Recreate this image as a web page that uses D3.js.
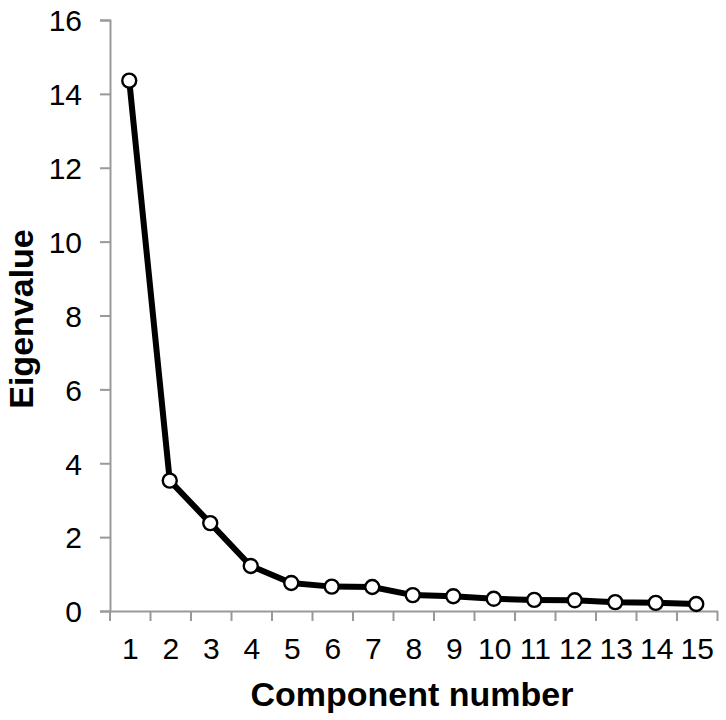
<!DOCTYPE html>
<html><head><meta charset="utf-8">
<script src="https://cdn.jsdelivr.net/npm/d3@7"></script>
<style>body{margin:0;background:#fff}svg{display:block}</style>
</head><body>
<script>
const components = [1,2,3,4,5,6,7,8,9,10,11,12,13,14,15];
const eigenvalues = [14.36,3.53,2.38,1.22,0.76,0.66,0.65,0.43,0.40,0.33,0.30,0.29,0.24,0.22,0.19];
const yTicks = [0,2,4,6,8,10,12,14,16];
const xTitle = "Component number";
const yTitle = "Eigenvalue";

const W=726,H=720;
const svg=d3.select("body").append("svg").attr("width",W).attr("height",H);
const x=d3.scaleBand().domain(components).range([110,717.5]);
const y=d3.scaleLinear().domain([0,16]).range([611,20]);
const font="Liberation Sans, Arial, sans-serif";
const axisColor="#999";

// y axis
const ya=svg.append("g").attr("transform","translate(110,0)")
  .call(d3.axisLeft(y).tickValues(yTicks).tickSize(10).tickPadding(18).tickFormat(d3.format("d")));
ya.attr("font-size",null).attr("font-family",null);
ya.select(".domain").attr("stroke",axisColor).attr("stroke-width",2);
ya.selectAll(".tick line").attr("stroke",axisColor).attr("stroke-width",2);
ya.selectAll("text").attr("font-family",font).style("font-size","30px").attr("fill","#000").attr("dy","0.36em");

// x axis
const xa=svg.append("g").attr("transform","translate(0,611)")
  .call(d3.axisBottom(x).tickSize(0).tickPadding(26));
xa.attr("font-size",null).attr("font-family",null);
xa.select(".domain").attr("stroke",axisColor).attr("stroke-width",2);
xa.selectAll(".tick line").remove();
xa.selectAll("text").attr("font-family",font).style("font-size","30px").attr("fill","#000")
  .attr("y",48).attr("dy",0);
// boundary ticks
const bounds=components.map(c=>x(c)).concat([x(components[components.length-1])+x.bandwidth()]);
svg.append("g").selectAll("line").data(bounds).join("line")
  .attr("x1",d=>d).attr("x2",d=>d).attr("y1",611).attr("y2",621)
  .attr("stroke",axisColor).attr("stroke-width",2);

// line
const cx=c=>x(c)+x.bandwidth()/2-1;
const data=components.map((c,i)=>({c,v:eigenvalues[i]}));
svg.append("path").datum(data)
  .attr("d",d3.line().x(d=>cx(d.c)).y(d=>y(d.v)))
  .attr("fill","none").attr("stroke","#000").attr("stroke-width",6).attr("stroke-linejoin","round");
svg.append("g").selectAll("circle").data(data).join("circle")
  .attr("cx",d=>cx(d.c)).attr("cy",d=>y(d.v)).attr("r",7)
  .attr("fill","#fff").attr("stroke","#000").attr("stroke-width",2.4);

// titles
svg.append("text").attr("x",412).attr("y",706).attr("text-anchor","middle")
  .attr("font-family",font).attr("font-weight","bold").style("font-size","34px").text(xTitle);
svg.append("text").attr("transform","translate(33,319) rotate(-90)").attr("text-anchor","middle")
  .attr("font-family",font).attr("font-weight","bold").style("font-size","34px").text(yTitle);
</script>
</body></html>
